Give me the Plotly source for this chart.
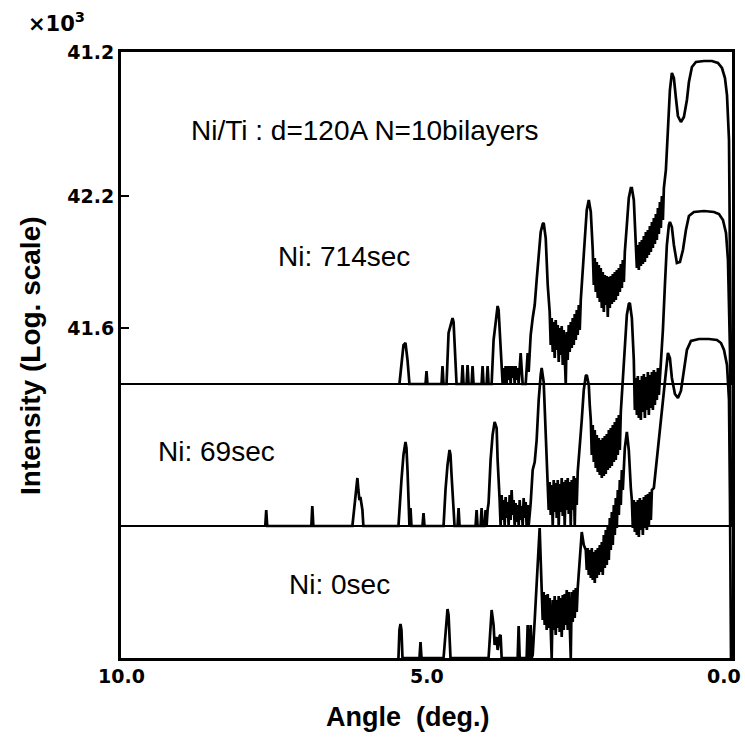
import plotly.graph_objects as go

# ---------------- data (angle in deg, log-intensity above each curve's floor) ----------------
offset_714 = 27.4
offset_69 = 13.2
offset_0 = 0.0

pts_714 = [
    (5.443, 0), (5.410, 1.9), (5.377, 3.9), (5.344, 4.1), (5.311, 2.4), (5.279, 0),
    (5.016, 0), (5.000, 1.3), (4.984, 0),
    (4.754, 0), (4.738, 1.8), (4.721, 0),
    (4.672, 0), (4.639, 5.1), (4.607, 5.9), (4.574, 6.6), (4.557, 6.2), (4.541, 3.9), (4.508, 0),
    (4.426, 0), (4.410, 1.9), (4.393, 0),
    (4.344, 0), (4.328, 1.9), (4.311, 0),
    (4.262, 0), (4.246, 1.8), (4.230, 0),
    (4.098, 0), (4.082, 1.8), (4.066, 0),
    (4.016, 0), (4.000, 1.8), (3.984, 0),
    (3.934, 0), (3.902, 4.4), (3.869, 6.4), (3.836, 7.8), (3.820, 7.4), (3.803, 5.4), (3.770, 2.9), (3.754, 0),
    (3.738, 1.6), (3.721, 0), (3.705, 1.8), (3.689, 0), (3.672, 1.8), (3.656, 0.4), (3.639, 1.8), (3.623, 0),
    (3.607, 1.8), (3.590, 0.6), (3.574, 1.8), (3.557, 0), (3.541, 1.8), (3.525, 0.4), (3.508, 1.6), (3.492, 0),
    (3.459, 3.1), (3.426, 0), (3.377, 0), (3.344, 3.1), (3.328, 1.2), (3.295, 4.9), (3.262, 6.6), (3.229, 7.9),
    (3.197, 10.4), (3.164, 12.9), (3.131, 15.2), (3.098, 16.0), (3.082, 16.1), (3.049, 14.6), (3.016, 9.9), (2.984, 7.2),
    (2.967, 3.9), (2.951, 6.6), (2.934, 3.2), (2.918, 6.2), (2.902, 2.6), (2.885, 6.4), (2.869, 3.4), (2.852, 5.9),
    (2.836, 2.2), (2.820, 5.6), (2.803, 2.9), (2.787, 5.8), (2.770, 1.9), (2.754, 5.4), (2.738, 2.9), (2.721, 0),
    (2.705, 5.2), (2.689, 2.4), (2.672, 5.9), (2.656, 3.2), (2.639, 6.2), (2.623, 3.6), (2.607, 6.6), (2.590, 3.9),
    (2.574, 7.0), (2.557, 4.4), (2.541, 7.4), (2.525, 4.9), (2.508, 7.9), (2.492, 5.4), (2.475, 8.4),
    (2.443, 10.9), (2.410, 14.4), (2.377, 17.4), (2.344, 18.4), (2.311, 17.2), (2.279, 13.4),
    (2.262, 9.9), (2.246, 12.6), (2.230, 9.2), (2.213, 12.2), (2.197, 8.6), (2.180, 11.9), (2.164, 8.2), (2.148, 11.6),
    (2.131, 7.6), (2.115, 11.2), (2.098, 7.2), (2.082, 10.9), (2.066, 7.9), (2.049, 10.8), (2.033, 6.7), (2.016, 10.7),
    (2.000, 7.6), (1.984, 10.8), (1.967, 8.0), (1.951, 11.0), (1.934, 8.2), (1.918, 11.2), (1.902, 8.4), (1.885, 11.4),
    (1.869, 8.8), (1.852, 11.6), (1.836, 9.2), (1.820, 12.0), (1.803, 9.6), (1.787, 12.4), (1.770, 10.2), (1.754, 13.2),
    (1.721, 15.9), (1.689, 18.6), (1.656, 19.6), (1.639, 19.6), (1.607, 18.4), (1.574, 14.6),
    (1.557, 11.6), (1.541, 13.9), (1.525, 11.4), (1.508, 14.2), (1.492, 11.8), (1.475, 14.4), (1.459, 12.0), (1.443, 14.8),
    (1.426, 12.2), (1.410, 15.2), (1.393, 12.6), (1.377, 15.4), (1.361, 12.9), (1.344, 15.8), (1.328, 13.2), (1.311, 16.2),
    (1.295, 13.6), (1.279, 16.6), (1.262, 14.0), (1.246, 17.0), (1.230, 14.4), (1.213, 17.6), (1.197, 15.0), (1.180, 18.2),
    (1.164, 15.6), (1.148, 18.8), (1.131, 16.4), (1.115, 19.6),
    (1.082, 21.4), (1.049, 25.4), (1.016, 29.4), (0.984, 31.1), (0.951, 30.6), (0.918, 28.6), (0.885, 26.8),
    (0.836, 26.2), (0.787, 26.7), (0.738, 28.4), (0.705, 30.2), (0.656, 31.7), (0.590, 32.2), (0.459, 32.3),
    (0.328, 32.3), (0.230, 32.1), (0.164, 31.6), (0.115, 30.6), (0.082, 28.9), (0.049, 24.4), (0.033, 15.4), (0.016, 0),
]

pts_69 = [
    (7.639, 0), (7.623, 1.6), (7.607, 0),
    (6.885, 0), (6.869, 2.0), (6.852, 0),
    (6.213, 0), (6.180, 2.1), (6.164, 2.6), (6.131, 4.8), (6.115, 3.6), (6.098, 2.6), (6.082, 2.9), (6.049, 1.6), (6.033, 0),
    (5.459, 0), (5.410, 4.6), (5.377, 7.1), (5.344, 8.4), (5.328, 7.8), (5.311, 5.6), (5.295, 2.1), (5.279, 0),
    (5.262, 1.8), (5.246, 0),
    (5.066, 0), (5.049, 1.3), (5.033, 0),
    (4.721, 0), (4.689, 3.6), (4.656, 6.1), (4.623, 7.6), (4.607, 7.1), (4.590, 5.1), (4.557, 1.6), (4.541, 0),
    (4.492, 0), (4.475, 1.8), (4.459, 0),
    (4.197, 0), (4.180, 1.6), (4.164, 0),
    (4.115, 0), (4.098, 1.8), (4.082, 0),
    (4.049, 0), (4.033, 1.6), (4.016, 0), (4.000, 1.6), (3.984, 2.3), (3.951, 6.6), (3.918, 9.1), (3.885, 10.4),
    (3.852, 9.8), (3.836, 6.6), (3.820, 3.6),
    (3.803, 2.6), (3.787, 0), (3.770, 3.1), (3.754, 0.6), (3.738, 2.6), (3.721, 0), (3.705, 2.9), (3.689, 0.8),
    (3.672, 2.4), (3.656, 0), (3.639, 3.1), (3.623, 0.6), (3.607, 3.6), (3.590, 1.1), (3.574, 2.6), (3.557, 0),
    (3.541, 2.3), (3.525, 0.4), (3.508, 2.1), (3.492, 0), (3.475, 2.6), (3.459, 0.6), (3.443, 2.0), (3.426, 0),
    (3.410, 2.8), (3.393, 0.8), (3.377, 2.4), (3.361, 0), (3.344, 2.1), (3.328, 0),
    (3.295, 2.3), (3.262, 5.6), (3.229, 6.4), (3.197, 8.6), (3.164, 12.6), (3.131, 15.1), (3.115, 15.8),
    (3.082, 14.4), (3.049, 9.6), (3.033, 5.6), (3.016, 4.4),
    (3.000, 1.6), (2.984, 4.4), (2.967, 1.1), (2.951, 4.1), (2.934, 0), (2.918, 4.6), (2.902, 1.4), (2.885, 4.3),
    (2.869, 0.8), (2.852, 4.6), (2.836, 0), (2.820, 4.2), (2.803, 1.4), (2.787, 4.8), (2.770, 1.0), (2.754, 4.4),
    (2.738, 0), (2.721, 4.6), (2.705, 1.6), (2.689, 4.8), (2.672, 1.2), (2.656, 4.4), (2.639, 0), (2.623, 4.6),
    (2.607, 1.6), (2.590, 5.0), (2.574, 0), (2.557, 4.8), (2.541, 2.1), (2.525, 5.4),
    (2.492, 7.6), (2.459, 10.6), (2.426, 13.6), (2.393, 15.0), (2.377, 15.1), (2.344, 14.1), (2.328, 12.1), (2.311, 10.6),
    (2.295, 7.1), (2.279, 10.1), (2.262, 6.4), (2.246, 9.6), (2.230, 5.8), (2.213, 9.1), (2.197, 5.4), (2.180, 8.8),
    (2.164, 5.1), (2.148, 8.6), (2.131, 4.8), (2.115, 8.8), (2.098, 5.0), (2.082, 9.0), (2.066, 5.2), (2.049, 9.2),
    (2.033, 5.6), (2.016, 9.6), (2.000, 5.8), (1.984, 9.8), (1.967, 6.0), (1.951, 10.1), (1.934, 6.4), (1.918, 10.4),
    (1.902, 6.6), (1.885, 10.8), (1.869, 7.1), (1.852, 11.1), (1.836, 7.6), (1.820, 11.4),
    (1.787, 14.6), (1.754, 18.1), (1.721, 21.1), (1.689, 22.2), (1.672, 22.3), (1.639, 20.8), (1.607, 16.6),
    (1.590, 11.6), (1.574, 14.8), (1.557, 11.1), (1.541, 15.0), (1.525, 10.8), (1.508, 14.6), (1.492, 10.6), (1.475, 15.0),
    (1.459, 11.4), (1.443, 15.2), (1.426, 10.8), (1.410, 14.9), (1.393, 11.6), (1.377, 15.4), (1.361, 11.1), (1.344, 15.1),
    (1.328, 11.8), (1.311, 15.4), (1.295, 11.6), (1.279, 15.6), (1.262, 12.1), (1.246, 15.4), (1.230, 12.6), (1.213, 15.8),
    (1.197, 13.1),
    (1.164, 16.1), (1.131, 19.6), (1.098, 24.1), (1.066, 28.1), (1.033, 30.1), (1.016, 30.4), (0.984, 29.9),
    (0.951, 28.1), (0.902, 26.3), (0.852, 26.4), (0.803, 27.6), (0.754, 29.6), (0.705, 31.0), (0.623, 31.4),
    (0.459, 31.5), (0.295, 31.4), (0.213, 31.2), (0.148, 30.6), (0.098, 29.3), (0.066, 26.6), (0.033, 17.6), (0.016, 0),
]

pts_0 = [
    (5.459, 0), (5.443, 2.8), (5.426, 3.4), (5.410, 2.8), (5.393, 0),
    (5.115, 0), (5.098, 1.6), (5.082, 0),
    (4.721, 0), (4.689, 2.8), (4.656, 4.9), (4.639, 4.3), (4.607, 0),
    (3.984, 0), (3.951, 3.3), (3.934, 4.8), (3.902, 3.3), (3.885, 1.3), (3.869, 1.8), (3.852, 2.1), (3.836, 0.8),
    (3.803, 2.2), (3.787, 2.3), (3.770, 0),
    (3.508, 0), (3.492, 3.2), (3.475, 0),
    (3.361, 0), (3.344, 3.3), (3.328, 0), (3.311, 0), (3.295, 3.3), (3.279, 0),
    (3.262, 0.3), (3.229, 3.8), (3.197, 7.3), (3.164, 11.3), (3.148, 13.0), (3.131, 9.8), (3.115, 7.0),
    (3.098, 3.8), (3.082, 6.6), (3.066, 3.3), (3.049, 6.3), (3.033, 2.8), (3.016, 6.4), (3.000, 3.0), (2.984, 6.0),
    (2.967, 2.6), (2.951, 0), (2.934, 5.8), (2.918, 2.8), (2.902, 6.2), (2.885, 2.3), (2.869, 5.8), (2.852, 3.0),
    (2.836, 6.2), (2.820, 2.6), (2.803, 6.0), (2.787, 2.1), (2.770, 6.3), (2.754, 2.8), (2.738, 6.4), (2.721, 3.3),
    (2.705, 6.8), (2.689, 2.8), (2.672, 6.6), (2.656, 3.0), (2.639, 0), (2.623, 6.6), (2.607, 3.6), (2.590, 6.8),
    (2.574, 4.0), (2.557, 7.0), (2.541, 4.6), (2.525, 7.0),
    (2.492, 9.8), (2.475, 11.8), (2.459, 12.6), (2.426, 11.3), (2.393, 10.8),
    (2.377, 8.8), (2.361, 11.0), (2.344, 8.3), (2.328, 10.8), (2.311, 8.0), (2.295, 11.0), (2.279, 7.8), (2.262, 10.6),
    (2.246, 7.5), (2.230, 10.8), (2.213, 8.0), (2.197, 11.0), (2.180, 8.3), (2.164, 11.3), (2.148, 8.6),
    (2.131, 11.6), (2.115, 8.3), (2.098, 12.3), (2.082, 9.0), (2.066, 12.8), (2.049, 9.3), (2.033, 13.3), (2.016, 9.8),
    (2.000, 14.0), (1.984, 10.8), (1.967, 14.6), (1.951, 11.3), (1.934, 15.3), (1.918, 12.3), (1.902, 16.0), (1.885, 13.0),
    (1.869, 16.8), (1.852, 14.3), (1.836, 17.8), (1.820, 15.3), (1.803, 18.8), (1.787, 16.8),
    (1.754, 21.0), (1.721, 22.6), (1.689, 20.8), (1.656, 17.0), (1.639, 15.8),
    (1.623, 13.0), (1.607, 15.8), (1.590, 12.6), (1.574, 15.6), (1.557, 12.3), (1.541, 15.8), (1.525, 12.1), (1.508, 16.0),
    (1.492, 12.8), (1.475, 15.8), (1.459, 12.3), (1.443, 16.1), (1.426, 13.0), (1.410, 16.3), (1.393, 12.8), (1.377, 16.4),
    (1.361, 13.3), (1.344, 16.6), (1.328, 13.8), (1.311, 16.8),
    (1.279, 17.0), (1.230, 19.8), (1.180, 22.8), (1.131, 25.8), (1.082, 28.8), (1.049, 30.5), (1.016, 30.0),
    (0.984, 28.0), (0.934, 26.4), (0.885, 26.0), (0.836, 26.7), (0.787, 28.6), (0.738, 30.8), (0.672, 31.7),
    (0.541, 31.9), (0.377, 31.9), (0.246, 31.8), (0.180, 31.5), (0.131, 30.8), (0.082, 29.3), (0.049, 25.8),
    (0.033, 15.8), (0.016, 0),
]

x_ticks = [10, 5, 0]
x_ticklabels = ["10.0", "5.0", "0.0"]
y_ticks = [60.59, 46.2, 33.0]
y_ticklabels = ["41.2", "42.2", "41.6"]

labels = [
    ("Ni/Ti : d=120A N=10bilayers", 0.399, 0.871),
    ("Ni: 714sec", 0.365, 0.662),
    ("Ni: 69sec", 0.157, 0.340),
    ("Ni: 0sec", 0.358, 0.122),
]

# ---------------- figure ----------------
fig = go.Figure()

for pts, off in [(pts_714, offset_714), (pts_69, offset_69), (pts_0, offset_0)]:
    xs = [p[0] for p in pts]
    ys = [p[1] + off for p in pts]
    fig.add_trace(go.Scatter(x=xs, y=ys, mode="lines",
                             line=dict(color="black", width=2.7),
                             showlegend=False, hoverinfo="skip"))

for off in [offset_714, offset_69]:
    fig.add_trace(go.Scatter(x=[10, 0], y=[off, off], mode="lines",
                             line=dict(color="black", width=2),
                             showlegend=False, hoverinfo="skip"))

tickfont = dict(family="DejaVu Sans", size=19, color="black", weight="bold")

fig.update_layout(
    width=745, height=738,
    margin=dict(l=121, r=13, t=52, b=80, autoexpand=False),
    paper_bgcolor="white", plot_bgcolor="white",
    xaxis=dict(range=[10, 0], showline=True, linewidth=3, linecolor="black", mirror=True,
               ticks="", tickvals=x_ticks, showticklabels=False, automargin=False,
               showgrid=False, zeroline=False),
    yaxis=dict(range=[0, 60.6], showline=True, linewidth=3, linecolor="black", mirror=True,
               ticks="inside", ticklen=8, tickwidth=2, tickcolor="black",
               tickvals=y_ticks, ticktext=y_ticklabels, tickfont=tickfont,
               automargin=False, showgrid=False, zeroline=False),
)

ann = []
# x-axis tick labels placed at the axis values (last one kept inside the canvas)
for val, txt in zip(x_ticks, x_ticklabels):
    anchor = "right" if val == 0 else "center"
    shift = 11 if val == 0 else 0
    ann.append(dict(text=txt, x=val, y=-0.03, xref="x", yref="paper", showarrow=False,
                    xanchor=anchor, yanchor="middle", xshift=shift, font=tickfont))
for text, x, y in labels:
    ann.append(dict(text=text, x=x, y=y, xref="paper", yref="paper", showarrow=False,
                    xanchor="center", yanchor="middle",
                    font=dict(family="Liberation Sans", size=28, color="black")))
ann.append(dict(text="×10<sup>3</sup>", x=-0.156, y=1.05, xref="paper", yref="paper",
                showarrow=False, xanchor="left", yanchor="middle",
                font=dict(family="DejaVu Sans", size=21, color="black", weight="bold")))
ann.append(dict(text="Intensity (Log. scale)", x=-0.149, y=0.5, xref="paper", yref="paper",
                showarrow=False, textangle=-90, xanchor="center", yanchor="middle",
                font=dict(family="Liberation Sans", size=28, color="black", weight="bold")))
ann.append(dict(text="Angle\u00a0\u00a0(deg.)", x=0.470, y=-0.097, xref="paper", yref="paper",
                showarrow=False, xanchor="center", yanchor="middle",
                font=dict(family="Liberation Sans", size=27, color="black", weight="bold")))
fig.update_layout(annotations=ann)

fig.write_html("out.html")
